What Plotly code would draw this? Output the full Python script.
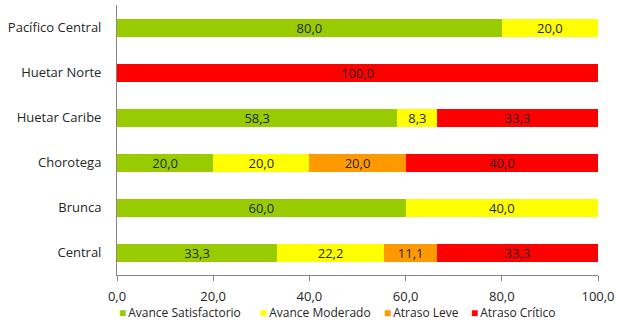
import plotly.graph_objects as go

regiones = ["Central", "Brunca", "Chorotega", "Huetar Caribe", "Huetar Norte", "Pacífico Central"]

satisfactorio = [33.3, 60.0, 20.0, 58.3, 0, 80.0]
moderado = [22.2, 40.0, 20.0, 8.3, 0, 20.0]
leve = [11.1, 0, 20.0, 0, 0, 0]
critico = [33.3, 0, 40.0, 33.3, 100.0, 0]

series = [
    ("Avance Satisfactorio", satisfactorio, "#99CC00"),
    ("Avance Moderado", moderado, "#FFFF00"),
    ("Atraso Leve", leve, "#FF9900"),
    ("Atraso Crítico", critico, "#FF0000"),
]
# posicion x (fraccion del area de trazado) de cada entrada de la leyenda
leyenda_x = [0.0, 0.293, 0.551, 0.732]

fig = go.Figure()
for nombre, vals, color in series:
    fig.add_trace(go.Bar(
        y=regiones, x=vals, name=nombre, orientation="h",
        marker=dict(color=color, line=dict(width=0)),
        text=[f"{v:.1f}".replace(".", ",") if v else "" for v in vals],
        textposition="inside", insidetextanchor="middle",
        textfont=dict(color="#262626", size=13),
        width=0.4,
    ))

# leyenda hecha a mano, Excel la deja mucho mas compacta que plotly
for (nombre, vals, color), lx in zip(series, leyenda_x):
    fig.add_annotation(
        x=lx, y=-0.14, xref="paper", yref="paper",
        xanchor="left", yanchor="middle", showarrow=False,
        text=f'<span style="color:{color}">■</span>\u2009{nombre}',
        font=dict(size=12, color="#262626"),
    )

fig.update_layout(
    barmode="stack",
    width=624, height=322,
    margin=dict(l=117, r=26, t=5, b=47, autoexpand=False),
    plot_bgcolor="white", paper_bgcolor="white",
    font=dict(family="Open Sans, Liberation Sans, sans-serif", size=13, color="#262626"),
    uniformtext=dict(minsize=12, mode="show"),
    separators=",.",
    showlegend=False,
)
fig.update_xaxes(
    range=[0, 100], dtick=20, tickformat=".1f", automargin=False,
    showgrid=False, showline=True, linecolor="#868686", linewidth=1,
    ticks="outside", tickcolor="#868686", ticklen=5, zeroline=False,
    ticklabelstandoff=4,
)
fig.update_yaxes(
    automargin=False,
    showgrid=False, showline=True, linecolor="#868686", linewidth=1,
    ticks="", ticklabelstandoff=12,
)

fig.write_html("out.html", config={"displayModeBar": False},
               post_script="document.body.style.margin='0';")
